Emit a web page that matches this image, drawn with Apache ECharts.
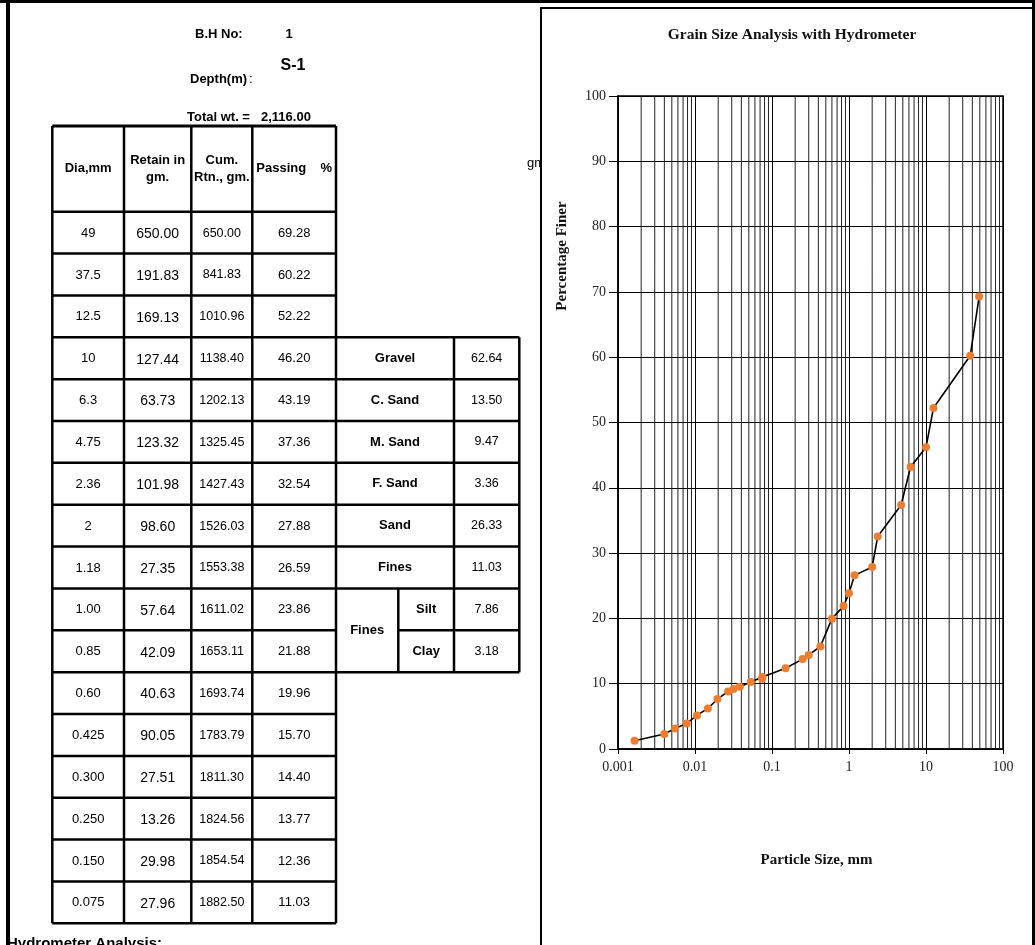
<!DOCTYPE html>
<html>
<head>
<meta charset="utf-8">
<script src="https://cdn.jsdelivr.net/npm/echarts@6/dist/echarts.min.js"></script>
<style>
  html, body { margin: 0; padding: 0; background: #fff; }
  #main { width: 1035px; height: 945px; }
</style>
</head>
<body>
<div id="main"></div>
<script>
// ---- Sieve analysis (sample S-1, B.H 1) ----
const sieveDia = ['49', '37.5', '12.5', '10', '6.3', '4.75', '2.36', '2', '1.18', '1.00', '0.85', '0.60', '0.425', '0.300', '0.250', '0.150', '0.075'];
const retained = ['650.00', '191.83', '169.13', '127.44', '63.73', '123.32', '101.98', '98.60', '27.35', '57.64', '42.09', '40.63', '90.05', '27.51', '13.26', '29.98', '27.96'];
const cumRetained = ['650.00', '841.83', '1010.96', '1138.40', '1202.13', '1325.45', '1427.43', '1526.03', '1553.38', '1611.02', '1653.11', '1693.74', '1783.79', '1811.30', '1824.56', '1854.54', '1882.50'];
const passing = ['69.28', '60.22', '52.22', '46.20', '43.19', '37.36', '32.54', '27.88', '26.59', '23.86', '21.88', '19.96', '15.70', '14.40', '13.77', '12.36', '11.03'];

// ---- Hydrometer readings ----
const hydroDia = [0.0743, 0.0531, 0.0382, 0.0316, 0.0269, 0.0196, 0.0147, 0.0106, 0.0078, 0.0055, 0.0040, 0.00164];
const hydroPassing = [10.75, 10.25, 9.53, 9.18, 8.81, 7.65, 6.21, 5.14, 3.92, 3.15, 2.29, 1.27];

// ---- Soil fractions ----
const fractionNames = ['Gravel', 'C. Sand', 'M. Sand', 'F. Sand', 'Sand', 'Fines'];
const fractionValues = ['62.64', '13.50', '9.47', '3.36', '26.33', '11.03'];
const finesNames = ['Silt', 'Clay'];
const finesValues = ['7.86', '3.18'];

// ---- Header info ----
const bhNo = '1';
const sampleId = 'S-1';
const totalWt = '2,116.00';

// ---- Axis ticks ----
const yTickStep = 10;
const logDecades = [0.001, 0.01, 0.1, 1, 10];
const minorMultipliers = [2, 3, 4, 5, 6, 7, 8, 9];

// Gradation curve: sieve points followed by hydrometer points (coarse to fine)
const curve = sieveDia.map((d, i) => [Number(d), Number(passing[i])])
  .concat(hydroDia.map((d, i) => [d, hydroPassing[i]]));

// Minor vertical lines of the semi-log grid
const minorLines = [];
logDecades.forEach(dec => minorMultipliers.forEach(m => minorLines.push([+(m * dec).toPrecision(3), 0])));

// ---- Sheet layout ----
const SANS = 'Liberation Sans, Arial, sans-serif';
const SERIF = 'Liberation Serif, Times New Roman, serif';
const colX = [52.3, 124, 191.3, 252.3, 336];
const hdrTop = 126, rowTop = 211.7, rowH = 41.86;
const sideX = [336, 398.3, 454, 519.3];
const LW = 2.5;

const g = [];
function line(x1, y1, x2, y2, w, z) {
  g.push({ type: 'line', z: z || 1, shape: { x1, y1, x2, y2 }, style: { stroke: '#000', lineWidth: w || LW } });
}
function text(str, x, y, opt) {
  opt = opt || {};
  g.push({
    type: 'text', z: opt.z || 2, x, y, rotation: opt.rotation || 0,
    style: {
      text: str,
      font: (opt.weight || 'normal') + ' ' + (opt.size || 13) + 'px ' + (opt.family || SANS),
      fill: opt.color || '#000',
      align: opt.align || 'center', textAlign: opt.align || 'center',
      verticalAlign: opt.va || 'middle', textVerticalAlign: opt.va || 'middle',
      lineHeight: opt.lh || undefined
    }
  });
}
const rowY = k => rowTop + k * rowH;

// Page frame
line(0, 1.5, 1035, 1.5, 3);
line(8, 0, 8, 945, 4, 20);
line(1033.5, 0, 1033.5, 945, 3);

// Unit text partly hidden behind the chart panel
text('gm', 527, 163, { align: 'left', size: 13, z: -10 });
// Chart panel
g.push({ type: 'rect', z: -5, shape: { x: 541, y: 8, width: 492, height: 960 }, style: { fill: '#fff', stroke: '#000', lineWidth: 2 } });

// Sheet header
text('B.H No:', 195, 34, { align: 'left', weight: 'bold' });
text(bhNo, 289, 34, { weight: 'bold' });
text(sampleId, 293, 66, { weight: 'bold', size: 16 });
text('Depth(m)', 190, 79, { align: 'left', weight: 'bold' });
text(':', 249, 79, { align: 'left' });
text('Total wt. =', 187, 117, { align: 'left', weight: 'bold' });
text(totalWt, 261, 117, { align: 'left', weight: 'bold' });

// Sieve table grid
line(colX[0], hdrTop, colX[4], hdrTop, 3);
for (let k = 0; k <= sieveDia.length; k++) line(colX[0], rowY(k), colX[4], rowY(k));
colX.forEach(x => line(x, hdrTop, x, rowY(sieveDia.length)));

// Column headings
const hc = (hdrTop + rowTop) / 2;
text('Dia,mm', (colX[0] + colX[1]) / 2, hc, { weight: 'bold' });
text('Retain in\ngm.', (colX[1] + colX[2]) / 2, hc, { weight: 'bold', lh: 17 });
text('Cum.\nRtn., gm.', (colX[2] + colX[3]) / 2, hc, { weight: 'bold', lh: 17 });
text('Passing', colX[3] + 4, hc, { weight: 'bold', align: 'left' });
text('%', colX[4] - 4, hc, { weight: 'bold', align: 'right' });

// Table body
sieveDia.forEach((d, i) => {
  const cy = rowY(i) + rowH / 2 + 0.5;
  text(d, (colX[0] + colX[1]) / 2, cy, { size: 13 });
  text(retained[i], (colX[1] + colX[2]) / 2, cy + 1, { size: 14 });
  text(cumRetained[i], (colX[2] + colX[3]) / 2, cy, { size: 12.5 });
  text(passing[i], (colX[3] + colX[4]) / 2, cy, { size: 13 });
});

// Fractions table
const f0 = 3;
for (let k = f0; k <= f0 + 8; k++) {
  const left = (k === f0 + 7) ? sideX[1] : sideX[0];
  line(left, rowY(k), sideX[3], rowY(k));
}
line(sideX[2], rowY(f0), sideX[2], rowY(f0 + 8));
line(sideX[3], rowY(f0), sideX[3], rowY(f0 + 8));
line(sideX[1], rowY(f0 + 6), sideX[1], rowY(f0 + 8));
fractionNames.forEach((n, i) => {
  const cy = rowY(f0 + i) + rowH / 2;
  text(n, (sideX[0] + sideX[2]) / 2, cy, { weight: 'bold' });
  text(fractionValues[i], (sideX[2] + sideX[3]) / 2, cy, { size: 12.5 });
});
text('Fines', (sideX[0] + sideX[1]) / 2, rowY(f0 + 7), { weight: 'bold' });
finesNames.forEach((n, i) => {
  const cy = rowY(f0 + 6 + i) + rowH / 2;
  text(n, (sideX[1] + sideX[2]) / 2, cy, { weight: 'bold' });
  text(finesValues[i], (sideX[2] + sideX[3]) / 2, cy, { size: 12.5 });
});

text('Hydrometer Analysis:', 7, 936, { align: 'left', va: 'top', weight: 'bold', size: 15 });

// Axis titles of the chart
text('Percentage Finer', 562, 256, { weight: 'bold', size: 15, family: SERIF, rotation: Math.PI / 2, color: '#111' });
text('Particle Size, mm', 816.5, 860, { weight: 'bold', size: 15, family: SERIF, color: '#111' });

const chart = echarts.init(document.getElementById('main'), null, { renderer: 'canvas' });
chart.setOption({
  animation: false,
  backgroundColor: '#fff',
  title: {
    text: 'Grain Size Analysis with Hydrometer',
    left: 787, top: 22, textAlign: 'center',
    textStyle: { fontFamily: SERIF, fontWeight: 'bold', fontSize: 15.5, color: '#111' }
  },
  grid: { left: 618, top: 96, right: 32, bottom: 196, show: true, borderColor: '#000', borderWidth: 1.5 },
  xAxis: {
    type: 'log', logBase: 10, min: 0.001, max: 100, splitNumber: 5,
    axisLine: { show: true, onZero: false, lineStyle: { color: '#000', width: 1.5 } },
    axisTick: { show: true, length: 5, lineStyle: { color: '#000' } },
    axisLabel: {
      margin: 11, fontFamily: SERIF, fontSize: 14, color: '#222',
      formatter: v => String(+Number(v).toPrecision(3))
    },
    splitLine: { show: true, lineStyle: { color: '#000', width: 1 } }
  },
  yAxis: {
    type: 'value', min: 0, max: 100, interval: yTickStep,
    axisLine: { show: true, onZero: false, lineStyle: { color: '#000', width: 1.5 } },
    axisTick: { show: true, length: 9, lineStyle: { color: '#000' } },
    axisLabel: { margin: 12, fontFamily: SERIF, fontSize: 14, color: '#222' },
    splitLine: { show: true, lineStyle: { color: '#000', width: 1 } }
  },
  graphic: { elements: g },
  series: [
    {
      // minor vertical grid lines at 2..9 x each decade
      type: 'custom', data: minorLines, z: 1, silent: true,
      encode: { x: 0, y: 1 },
      renderItem: (params, api) => {
        const x = api.value(0);
        const top = api.coord([x, 100]);
        const bot = api.coord([x, 0]);
        return {
          type: 'line',
          shape: { x1: top[0], y1: top[1], x2: bot[0], y2: bot[1] },
          style: { stroke: '#222', lineWidth: 1 }
        };
      }
    },
    {
      type: 'line', data: curve, z: 10,
      symbol: 'circle', symbolSize: 8,
      itemStyle: { color: '#ED7D31' },
      lineStyle: { color: '#000', width: 1.6 }
    }
  ]
});
</script>
</body>
</html>
